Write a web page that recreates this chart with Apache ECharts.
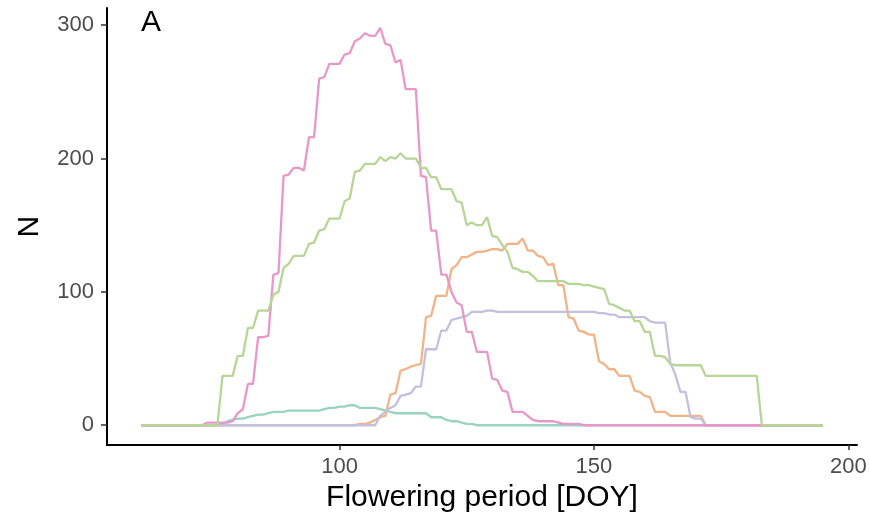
<!DOCTYPE html>
<html>
<head>
<meta charset="utf-8">
<script src="https://cdn.jsdelivr.net/npm/echarts@6/dist/echarts.min.js"></script>
<style>
html,body{margin:0;padding:0;background:#fff;}
#chart{width:870px;height:518px;}
</style>
</head>
<body>
<div id="chart"></div>
<script>
// Day of year (x values)
const days = [61,62,63,64,65,66,67,68,69,70,71,72,73,74,75,76,77,78,79,80,
81,82,83,84,85,86,87,88,89,90,91,92,93,94,95,96,97,98,99,100,
101,102,103,104,105,106,107,108,109,110,111,112,113,114,115,116,117,118,119,120,
121,122,123,124,125,126,127,128,129,130,131,132,133,134,135,136,137,138,139,140,
141,142,143,144,145,146,147,148,149,150,151,152,153,154,155,156,157,158,159,160,
161,162,163,164,165,166,167,168,169,170,171,172,173,174,175,176,177,178,179,180,
181,182,183,184,185,186,187,188,189,190,191,192,193,194,195];

const xTicks = [100, 150, 200];
const yTicks = [0, 100, 200, 300];

const seriesTeal = [0,0,0,0,0,0,0,0,0,0,0,0,0,0,0,0,
1,3,4,5,5,6,7,8,8,9,
10,10,10,11,11,11,11,11,11,11,
12,13,13,14,14,15,15,13,13,13,
13,12,11,10,9,9,9,9,9,9,
9,6,6,6,4,3,3,2,1,1,
0,0,0,0,0,0,0,0,0,0,0,0,0,0,0,0,0,0,0,0,0,0,0,0,0,0,0,0,0,0,0,0,0,0,0,
0,0,0,0,0,0,0,0,0,0,0,0,0,0,0,0,0,0,0,0,0,0,0,0,0,0,0,0,0,0,0,0,0,0,0,
0,0,0,0,0,0,0,0,0,0,0,0,0,0,0,0,0,0,0];

const seriesOrange = [0,0,0,0,0,0,0,0,0,0,0,0,0,0,0,0,0,0,0,0,0,0,0,0,0,0,0,0,0,0,0,0,0,0,0,0,0,0,0,0,0,0,0,
1,1,2,4,6,7,23,24,41,42,
44,45,46,81,82,97,97,97,117,120,
126,126,128,130,130,131,132,132,131,136,
136,136,140,131,131,127,126,120,121,105,
105,81,80,71,70,68,68,48,46,42,
42,37,37,37,26,25,22,21,10,10,
10,7,7,7,7,7,7,7,
0,0,0,0,0,0,0,0,0,0,0,0,0,0,0,0,0,0,0,0,0,0,0,0];

const seriesPurple = [0,0,0,0,0,0,0,0,0,0,0,0,0,0,0,0,0,0,0,0,0,0,0,0,0,0,0,0,0,0,0,0,0,0,0,0,0,0,0,0,0,0,0,0,0,0,0,
7,10,13,15,22,23,24,29,29,57,
57,57,71,71,79,80,81,82,85,85,
85,86,86,85,85,85,85,85,85,85,
85,85,85,85,85,85,85,85,85,85,
85,85,85,84,84,83,83,81,81,81,
81,81,81,78,77,77,77,47,38,25,
25,6,5,5,
0,0,0,0,0,0,0,0,0,0,0,0,0,0,0,0,0,0,0,0,0,0,0,0];

const seriesPink = [0,0,0,0,0,0,0,0,0,0,0,0,0,
2,2,2,2,2,
3,9,12,31,31,66,66,67,113,114,
187,188,193,193,191,216,216,260,261,271,
271,271,278,279,288,290,294,292,292,298,
286,285,272,274,252,252,252,187,186,146,
146,113,113,100,92,90,70,70,55,55,
55,35,34,26,25,10,10,10,7,4,
3,3,3,3,2,1,1,1,1,0,
0,0,0,0,0,0,0,0,0,0,0,0,0,0,0,0,0,0,0,0,0,0,0,0,0,0,0,0,0,0,0,0,0,0,0,0,0,0,0,0,0,0,0,0,0,0,0];

const seriesGreen = [0,0,0,0,0,0,0,0,0,0,0,0,0,0,0,0,
37,37,37,52,52,73,73,86,86,86,
98,100,118,121,127,127,127,136,137,146,
147,155,155,155,168,170,190,191,196,196,
196,201,198,201,200,204,200,200,200,193,
193,186,186,177,177,177,168,167,150,152,
150,150,156,142,141,135,130,118,117,115,
115,112,108,108,108,108,108,108,106,106,
106,105,105,104,103,102,91,90,88,86,
86,78,78,70,70,52,52,51,46,45,
45,45,45,45,45,37,37,37,37,37,
37,37,37,37,37,37,
0,0,0,0,0,0,0,0,0,0,0,0,0];

const seriesList = [
  {name: 'teal', values: seriesTeal, color: '#98d4bf'},
  {name: 'orange', values: seriesOrange, color: '#f0b488'},
  {name: 'purple', values: seriesPurple, color: '#c3c0de'},
  {name: 'pink', values: seriesPink, color: '#e898c8'},
  {name: 'green', values: seriesGreen, color: '#b6d597'}
];

const FONT = '"Liberation Sans", Arial, Helvetica, sans-serif';

const chart = echarts.init(document.getElementById('chart'), null, {renderer: 'canvas'});
chart.setOption({
  animation: false,
  backgroundColor: '#ffffff',
  textStyle: {fontFamily: FONT},
  grid: {left: 107, right: 13, top: 8, bottom: 71, containLabel: false},
  xAxis: {
    type: 'value',
    min: 54.3,
    max: 201.7,
    name: 'Flowering period [DOY]',
    nameLocation: 'middle',
    nameGap: 27,
    nameTextStyle: {fontSize: 30, color: '#000', fontFamily: FONT},
    axisLine: {show: true, onZero: false, lineStyle: {color: '#000', width: 2}},
    axisTick: {show: true, customValues: xTicks, length: 5, lineStyle: {color: '#333', width: 1.5}},
    axisLabel: {customValues: xTicks, fontSize: 22, color: '#4d4d4d', margin: 11, fontFamily: FONT},
    splitLine: {show: false}
  },
  yAxis: {
    type: 'value',
    min: -14.9,
    max: 312.9,
    name: 'N',
    nameLocation: 'middle',
    nameRotate: 90,
    nameGap: 62,
    nameTextStyle: {fontSize: 30, color: '#000', fontFamily: FONT},
    axisLine: {show: true, onZero: false, lineStyle: {color: '#000', width: 2}},
    axisTick: {show: true, customValues: yTicks, length: 6, lineStyle: {color: '#333', width: 1.5}},
    axisLabel: {customValues: yTicks, fontSize: 22, color: '#4d4d4d', margin: 13, fontFamily: FONT},
    splitLine: {show: false}
  },
  graphic: [{
    type: 'text',
    left: 141,
    top: 8,
    style: {text: 'A', fontSize: 30, fill: '#000', fontFamily: FONT}
  }],
  series: seriesList.map(s => ({
    name: s.name,
    type: 'line',
    data: days.map((d, i) => [d, s.values[i]]),
    showSymbol: false,
    symbol: 'none',
    lineStyle: {color: s.color, width: 2.3},
    itemStyle: {color: s.color},
    silent: true
  }))
});
</script>
</body>
</html>
